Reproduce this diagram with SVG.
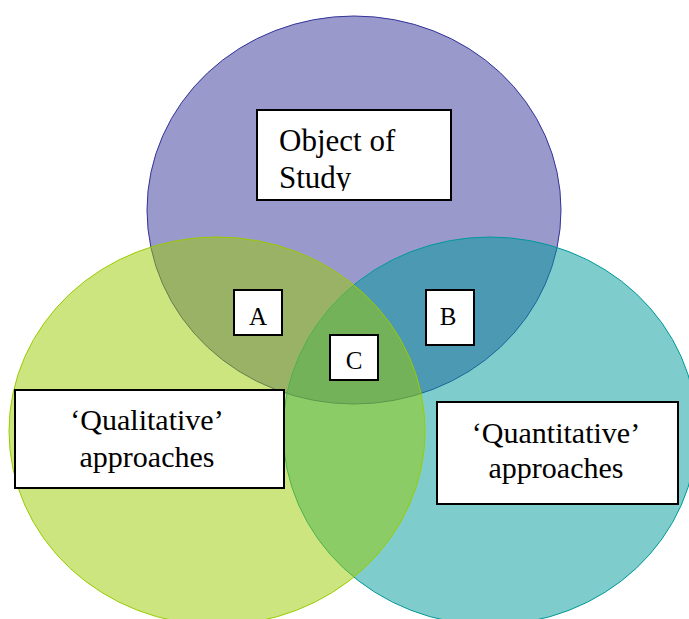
<svg xmlns="http://www.w3.org/2000/svg" width="689" height="619" viewBox="0 0 689 619">
<defs>
<style>
.box{fill:#fff;stroke:#000;stroke-width:2}
.t{font-family:"Liberation Serif","Times New Roman",serif;fill:#000}
.big{font-size:30px}
.lbl{font-size:25px;text-anchor:middle}
</style>
<clipPath id="clipObj"><rect x="257" y="111" width="193" height="80"/></clipPath>
</defs>
<rect width="689" height="619" fill="#fff"/>
<g id="circles">
<ellipse id="circle-object" cx="354" cy="210" rx="207" ry="194" fill="#333399" fill-opacity="0.5" stroke="#333399" stroke-width="1"/>
<ellipse id="circle-quant" cx="490" cy="431" rx="207" ry="194" fill="#009999" fill-opacity="0.5" stroke="#009999" stroke-width="1"/>
<ellipse id="circle-qual" cx="217" cy="431" rx="208" ry="194" fill="#99CC00" fill-opacity="0.5" stroke="#99CC00" stroke-width="1"/>
</g>
<g id="node-object">
<rect class="box" x="257" y="110" width="194" height="90"/>
<g clip-path="url(#clipObj)">
<text class="t" style="font-size:31px" x="279" y="151">Object of</text>
<text class="t" style="font-size:31px" x="279" y="188">Study</text>
</g>
</g>
<g id="node-qual">
<rect class="box" x="15" y="390" width="269" height="98"/>
<text class="t big" x="147" y="430" text-anchor="middle">‘Qualitative’</text>
<text class="t big" x="147" y="467" text-anchor="middle">approaches</text>
</g>
<g id="node-quant">
<rect class="box" x="437" y="402" width="241" height="102"/>
<text class="t big" x="556" y="443" text-anchor="middle">‘Quantitative’</text>
<text class="t big" x="556" y="478" text-anchor="middle">approaches</text>
</g>
<g id="node-a">
<rect class="box" x="234" y="290" width="48" height="45"/>
<text class="t lbl" x="258" y="325">A</text>
</g>
<g id="node-b">
<rect class="box" x="426" y="290" width="48" height="55"/>
<text class="t lbl" x="448" y="325">B</text>
</g>
<g id="node-c">
<rect class="box" x="330" y="335" width="48" height="45"/>
<text class="t lbl" x="354" y="369">C</text>
</g>
<g id="connectors"/>
</svg>
